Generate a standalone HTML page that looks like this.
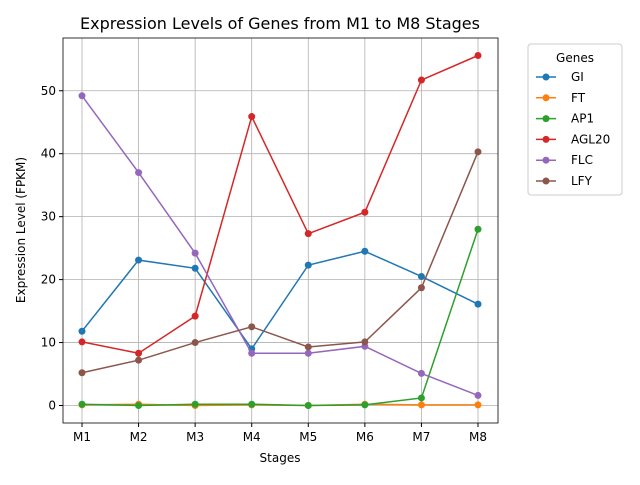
<!DOCTYPE html>
<html><head><meta charset="utf-8"><style>
body{margin:0;background:#fff}
svg text{font-family:"DejaVu Sans","Liberation Sans",sans-serif;fill:#000}
</style></head><body>
<svg id="chart" width="640" height="480" xmlns="http://www.w3.org/2000/svg">
<rect width="640" height="480" fill="#fff"/>
<text x="280" y="29" font-size="16" text-anchor="middle">Expression Levels of Genes from M1 to M8 Stages</text>
<g id="grid"></g><g id="series"></g><g id="axes"></g>
<text x="280" y="462" font-size="12" text-anchor="middle">Stages</text>
<text transform="translate(25,230) rotate(-90)" font-size="12" text-anchor="middle">Expression Level (FPKM)</text>
<g id="legend">
<rect x="528" y="44" width="94" height="151" fill="#fff" stroke="#ccc" rx="3"/>
<text x="575" y="62" font-size="12" text-anchor="middle">Genes</text>
</g>
</svg>
<script>
const categories=["M1","M2","M3","M4","M5","M6","M7","M8"];
const geneNames=["GI","FT","AP1","AGL20","FLC","LFY"];
const colors=["#1f77b4","#ff7f0e","#2ca02c","#d62728","#9467bd","#8c564b"];
const GI=[11.8,23.1,21.8,9.0,22.3,24.5,20.5,16.1];
const FT=[0.1,0.2,0.0,0.1,0.0,0.2,0.1,0.1];
const AP1=[0.2,0.0,0.2,0.2,0.0,0.1,1.2,28.0];
const AGL20=[10.1,8.3,14.2,45.9,27.3,30.7,51.7,55.6];
const FLC=[49.2,37.0,24.2,8.3,8.3,9.4,5.1,1.6];
const LFY=[5.2,7.2,10.0,12.5,9.3,10.1,18.7,40.3];
const yTicks=[0,10,20,30,40,50];
const allSeries=[GI,FT,AP1,AGL20,FLC,LFY];
const L=63,R=498,T=38,B=423;
const all=allSeries.flat();
const mx=Math.max(...all),mn=Math.min(...all),pad=(mx-mn)*0.05;
const y0=mn-pad,y1=mx+pad;
const xs=i=>82+i*(478-82)/(categories.length-1);
const ys=v=>B-(v-y0)/(y1-y0)*(B-T);
const NS="http://www.w3.org/2000/svg";
function mk(t,a,p){const e=document.createElementNS(NS,t);for(const k in a)e.setAttribute(k,a[k]);p.appendChild(e);return e;}
const grid=document.getElementById('grid'),axes=document.getElementById('axes'),ser=document.getElementById('series'),leg=document.getElementById('legend');
categories.forEach((c,i)=>{
 const g=mk('line',{x1:xs(i),x2:xs(i),y1:T,y2:B,stroke:'#b0b0b0','stroke-width':0.8},grid);
 
 
 mk('line',{x1:xs(i),x2:xs(i),y1:B,y2:B+4,stroke:'#000'},axes);
 const t=mk('text',{x:xs(i),y:B+18,'font-size':12,'text-anchor':'middle'},axes);t.textContent=c;
 
 
});
yTicks.forEach(v=>{
 const g=mk('line',{x1:L,x2:R,y1:ys(v),y2:ys(v),stroke:'#b0b0b0','stroke-width':0.8},grid);
 
 
 mk('line',{x1:L-4,x2:L,y1:ys(v),y2:ys(v),stroke:'#000'},axes);
 const t=mk('text',{x:L-7,y:ys(v)+4,'font-size':12,'text-anchor':'end'},axes);t.textContent=v;
 
 
});
mk('rect',{x:L,y:T,width:R-L,height:B-T,fill:'none',stroke:'#000','stroke-width':0.8},axes);
allSeries.forEach((s,k)=>{
 const p=mk('polyline',{points:s.map((v,i)=>xs(i)+','+ys(v)).join(' '),fill:'none',stroke:colors[k],'stroke-width':1.5},ser);
 
 
 s.forEach((v,i)=>{const c=mk('circle',{cx:xs(i),cy:ys(v),r:3.5,fill:colors[k]},ser);
  
  });
 const ly=77+k*20.8;
 const le=mk('g',{},leg);
 
 
 mk('line',{x1:536,x2:556,y1:ly,y2:ly,stroke:colors[k],'stroke-width':1.5},le);
 mk('circle',{cx:546,cy:ly,r:3.5,fill:colors[k]},le);
 const t=mk('text',{x:571,y:ly+4,'font-size':12},le);t.textContent=geneNames[k];
});
</script>
</body></html>
